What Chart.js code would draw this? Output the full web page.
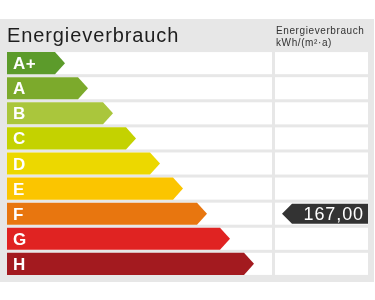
<!DOCTYPE html>
<html>
<head>
<meta charset="utf-8">
<script src="https://cdn.jsdelivr.net/npm/chart.js@4.4.1/dist/chart.umd.min.js"></script>
<style>
  html, body { margin: 0; padding: 0; background: #fff; }
  #wrap { width: 375px; height: 300px; }
</style>
</head>
<body>
<div id="wrap"><canvas id="energyChart" width="375" height="300"></canvas></div>
<script>
// ============================
// DATA
// ============================
const classes = ["A+", "A", "B", "C", "D", "E", "F", "G", "H"];
const barLengths = [58, 81, 106, 129, 153, 176, 200, 223, 247];
const classColors = ["#5c9b2b", "#7caa2c", "#aac63c", "#c4d200", "#ecd800", "#fbc500", "#e8760f", "#e02322", "#a31a1f"];
const ratingClass = "F";
const ratingLabel = "167,00";
const titleText = "Energieverbrauch";
const unitLines = ["Energieverbrauch", "kWh/(m²·a)"];

const FONT = "'Liberation Sans', Arial, sans-serif";

// ============================
// LABEL PLUGIN (background, rows, arrows, marker)
// ============================
const labelPlugin = {
  id: "energyLabel",
  beforeDatasetsDraw(chart) {
    const { ctx, chartArea } = chart;
    const meta = chart.getDatasetMeta(0);
    ctx.save();

    // grey panel
    ctx.fillStyle = "#e7e7e7";
    ctx.fillRect(0, 19, 374, 263);

    // headers
    ctx.fillStyle = "#1e1e1e";
    ctx.font = "20px " + FONT;
    ctx.letterSpacing = "0.9px";
    ctx.textBaseline = "alphabetic";
    ctx.fillText(titleText, 7, 42);
    ctx.fillStyle = "#333";
    ctx.font = "10px " + FONT;
    ctx.letterSpacing = "0.6px";
    ctx.fillText(unitLines[0], 276, 34);
    ctx.fillText(unitLines[1], 276, 46);

    // white row cells
    ctx.fillStyle = "#fff";
    meta.data.forEach((bar) => {
      const top = bar.y - bar.height / 2;
      ctx.fillRect(chartArea.left, top, chartArea.right - chartArea.left, bar.height);
      ctx.fillRect(chartArea.right + 3, top, 93, bar.height);
    });
    ctx.restore();
  },
  beforeDatasetDraw(chart, args) {
    const { ctx } = chart;
    const meta = args.meta;
    ctx.save();
    meta.data.forEach((bar, i) => {
      const top = bar.y - bar.height / 2;
      const bottom = bar.y + bar.height / 2;
      const head = 10;
      ctx.fillStyle = classColors[i];
      ctx.beginPath();
      ctx.moveTo(bar.base, top);
      ctx.lineTo(bar.x - head, top);
      ctx.lineTo(bar.x, bar.y);
      ctx.lineTo(bar.x - head, bottom);
      ctx.lineTo(bar.base, bottom);
      ctx.closePath();
      ctx.fill();

      ctx.fillStyle = "#fff";
      ctx.font = "bold 17px " + FONT;
      ctx.letterSpacing = "0.5px";
      ctx.textBaseline = "alphabetic";
      ctx.fillText(classes[i], bar.base + 6, bar.y + 6);
    });
    ctx.restore();
    return false;
  },
  afterDatasetsDraw(chart) {
    const { ctx, chartArea } = chart;
    const meta = chart.getDatasetMeta(0);
    const bar = meta.data[classes.indexOf(ratingClass)];
    const left = chartArea.right + 10;
    const right = chartArea.right + 96;
    const top = bar.y - bar.height / 2 + 1;
    const bottom = bar.y + bar.height / 2 - 1;
    ctx.save();
    ctx.fillStyle = "#333";
    ctx.beginPath();
    ctx.moveTo(left, bar.y);
    ctx.lineTo(left + 10, top);
    ctx.lineTo(right, top);
    ctx.lineTo(right, bottom);
    ctx.lineTo(left + 10, bottom);
    ctx.closePath();
    ctx.fill();

    ctx.fillStyle = "#fff";
    ctx.font = "18px " + FONT;
    ctx.letterSpacing = "0.9px";
    ctx.textAlign = "right";
    ctx.textBaseline = "alphabetic";
    ctx.fillText(ratingLabel, right - 4, bar.y + 6);
    ctx.restore();
  }
};

// ============================
// CHART
// ============================
const ctx = document.getElementById("energyChart").getContext("2d");

new Chart(ctx, {
  type: "bar",
  data: {
    labels: classes,
    datasets: [
      {
        label: titleText,
        data: barLengths,
        backgroundColor: classColors,
        barPercentage: 1,
        categoryPercentage: 0.88
      }
    ]
  },
  options: {
    indexAxis: "y",
    responsive: false,
    animation: false,
    layout: {
      padding: { left: 7, right: 103, top: 50.6, bottom: 23.6 }
    },
    plugins: {
      legend: { display: false },
      tooltip: { enabled: false }
    },
    scales: {
      x: { display: false, min: 0, max: 265 },
      y: { display: false }
    }
  },
  plugins: [labelPlugin]
});
</script>
</body>
</html>
